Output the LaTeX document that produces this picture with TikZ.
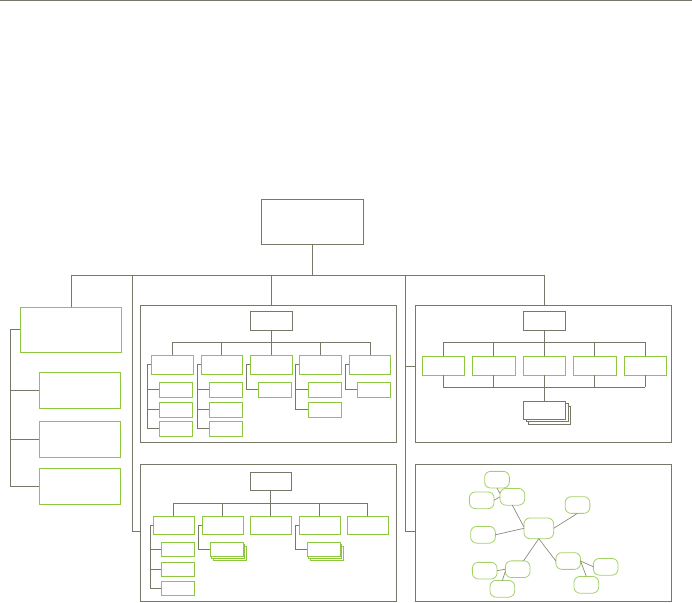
\documentclass[tikz,border=0pt]{standalone}
\usetikzlibrary{calc}
\definecolor{lg}{RGB}{120,120,104}
\definecolor{gr}{RGB}{141,198,63}
\newcommand\bx[6]{\node[#2, minimum width={#5pt-#3pt}, minimum height={#6pt-#4pt}] (#1) at ({(#3+#5)/2},{(#4+#6)/2}) {};}
\tikzset{
  gbox/.style={draw=gr, line width=1pt, fill=white, inner sep=0pt, outer sep=0pt},
  kbox/.style={draw=lg, line width=1pt, fill=white, inner sep=0pt, outer sep=0pt},
  panel/.style={draw=lg, line width=1pt, inner sep=0pt, outer sep=0pt},
  ell/.style={draw=gr!80, line width=0.8pt, fill=white, rounded corners=6pt, inner sep=0pt, outer sep=0pt, minimum width=24.7pt, minimum height=16.7pt},
  conn/.style={draw=lg, line width=1pt},
  thin/.style={draw=lg!85, line width=0.7pt}
}
\begin{document}
\begin{tikzpicture}[x=1pt,y=-1pt]
\useasboundingbox (0,0) rectangle (692,602);
\draw[lg, line width=1.5pt] (0,0.75) -- (692,0.75);

% root and main bus
\bx{root}{kbox}{261.3}{199.3}{363.3}{244.3}
\coordinate (bus) at (0,275.3);

% left group
\bx{L0}{gbox}{20.3}{307.3}{121.7}{352.3}
\bx{L1}{gbox}{39.3}{372.3}{120.3}{408.3}
\bx{L2}{gbox}{39.3}{421.3}{120.3}{457.3}
\bx{L3}{gbox}{39.3}{468.3}{120.3}{504.3}
\coordinate (lb) at (10.3,0);
\draw[conn] (L0.west) -- (lb |- L0.west) -- (lb |- L3.west) -- (L3.west);
\draw[conn] (lb |- L1.west) -- (L1.west);
\draw[conn] (lb |- L2.west) -- (L2.west);

% panels
\bx{pUM}{panel}{140.3}{305.3}{396.3}{442.3}
\bx{pUR}{panel}{415.3}{305.3}{671.7}{442.3}
\bx{pLM}{panel}{140.3}{464.3}{396.3}{601.3}
\bx{pLR}{panel}{415.3}{464.3}{671.7}{601.3}

% ---------- upper middle panel
\bx{hA}{kbox}{250.3}{311.3}{292.3}{330.3}
\bx{A1}{gbox}{151}{355.3}{193.7}{374.3}
\bx{A2}{gbox}{201.3}{355.3}{242.3}{374.3}
\bx{A3}{gbox}{250.3}{355.3}{292.3}{374.3}
\bx{A4}{gbox}{299.3}{355.3}{341.3}{374.3}
\bx{A5}{gbox}{349.3}{355.3}{390.7}{374.3}
\bx{A1a}{gbox}{159.3}{382.3}{192.3}{397.3}
\bx{A1b}{gbox}{159.3}{402.3}{192.3}{417.3}
\bx{A1c}{gbox}{159.3}{421.3}{192.3}{436.3}
\bx{A2a}{gbox}{209.3}{382.3}{242.3}{397.3}
\bx{A2b}{gbox}{209.3}{402.3}{242.3}{417.3}
\bx{A2c}{gbox}{209.3}{421.3}{242.3}{436.3}
\bx{A3a}{gbox}{258.3}{382.3}{291.3}{397.3}
\bx{A4a}{gbox}{308.3}{382.3}{341.3}{397.3}
\bx{A4b}{gbox}{308.3}{402.3}{341.3}{417.3}
\bx{A5a}{gbox}{357.3}{382.3}{390.3}{397.3}
\coordinate (busA) at (0,342.3);
\draw[conn] (hA.south) -- (hA.south |- busA);
\draw[conn] (A1.north |- busA) -- (A5.north |- busA);
\foreach \n in {A1,A2,A3,A4,A5} {\draw[conn] (\n.north |- busA) -- (\n.north);}
\draw[conn] (A1.west) -- ++(-3.7,0) coordinate (a1b) |- (A1c.west);
\draw[conn] (a1b |- A1a.west) -- (A1a.west);
\draw[conn] (a1b |- A1b.west) -- (A1b.west);
\draw[conn] (A2.west) -- ++(-4,0) coordinate (a2b) |- (A2c.west);
\draw[conn] (a2b |- A2a.west) -- (A2a.west);
\draw[conn] (a2b |- A2b.west) -- (A2b.west);
\draw[conn] (A3.west) -- ++(-4,0) |- (A3a.west);
\draw[conn] (A4.west) -- ++(-4,0) coordinate (a4b) |- (A4b.west);
\draw[conn] (a4b |- A4a.west) -- (A4a.west);
\draw[conn] (A5.west) -- ++(-4,0) |- (A5a.west);

% ---------- upper right panel
\bx{hB}{kbox}{523.3}{311.3}{565.3}{330.3}
\bx{B1}{gbox}{422.3}{356.3}{464.3}{375.3}
\bx{B2}{gbox}{472.3}{356.3}{515.3}{375.3}
\bx{B3}{gbox}{523.3}{356.3}{565.3}{375.3}
\bx{B4}{gbox}{573.3}{356.3}{616.3}{375.3}
\bx{B5}{gbox}{624.3}{356.3}{666.3}{375.3}
\bx{D3}{kbox}{528.7}{406.3}{570.7}{424.3}
\bx{D2}{kbox}{526}{403.8}{568}{421.8}
\bx{D}{kbox}{523.3}{401.3}{565.3}{419.3}
\coordinate (busB) at (0,342.3);
\coordinate (busB2) at (0,387.3);
\draw[conn] (hB.south) -- (hB.south |- busB);
\draw[conn] (B1.north |- busB) -- (B5.north |- busB);
\draw[conn] (B1.south |- busB2) -- (B5.south |- busB2);
\foreach \n in {B1,B2,B3,B4,B5} {
  \draw[conn] (\n.north |- busB) -- (\n.north);
  \draw[conn] (\n.south) -- (\n.south |- busB2);
}
\draw[conn] (B3.south |- busB2) -- (D.north);

% ---------- lower middle panel
\bx{hC}{kbox}{250.3}{472.3}{291.3}{490.3}
\bx{C1}{gbox}{153.3}{516.3}{194.3}{534.3}
\bx{C2}{gbox}{202.3}{516.3}{243.3}{534.3}
\bx{C3}{gbox}{250.3}{516.3}{291.3}{534.3}
\bx{C4}{gbox}{299.3}{516.3}{340.3}{534.3}
\bx{C5}{gbox}{347.3}{516.3}{388.3}{534.3}
\bx{C1a}{gbox}{161.3}{542.3}{194.3}{556.3}
\bx{C1b}{gbox}{161.3}{562.3}{194.3}{576.3}
\bx{C1c}{gbox}{161.3}{581.3}{194.3}{595.3}
\bx{C2s2}{gbox}{213.3}{546.3}{246.3}{560.3}
\bx{C2s1}{gbox}{211.8}{544.3}{244.8}{558.3}
\bx{C2a}{gbox}{210.3}{542.3}{243.3}{556.3}
\bx{C4s2}{gbox}{310.3}{546.3}{343.3}{560.3}
\bx{C4s1}{gbox}{308.8}{544.3}{341.8}{558.3}
\bx{C4a}{gbox}{307.3}{542.3}{340.3}{556.3}
\coordinate (busC) at (0,503.3);
\draw[conn] (hC.south) -- (hC.south |- busC);
\draw[conn] (C1.north |- busC) -- (C5.north |- busC);
\foreach \n in {C1,C2,C3,C4,C5} {\draw[conn] (\n.north |- busC) -- (\n.north);}
\draw[conn] (C1.west) -- ++(-3,0) coordinate (c1b) |- (C1c.west);
\draw[conn] (c1b |- C1a.west) -- (C1a.west);
\draw[conn] (c1b |- C1b.west) -- (C1b.west);
\draw[conn] (C2.west) -- ++(-4,0) |- (C2a.west);
\draw[conn] (C4.west) -- ++(-4,0) |- (C4a.west);

% ---------- lower right panel (mind map)
\node[ell, minimum width=29.7pt, minimum height=20.7pt] (ec) at (538.8,528.3) {};
\node[ell] (e1) at (497,479.7) {};
\node[ell] (e2) at (481.7,500.3) {};
\node[ell] (e3) at (512.3,496.8) {};
\node[ell] (e4) at (577.5,505) {};
\node[ell] (e5) at (483,534.8) {};
\node[ell] (e6) at (484.7,570.7) {};
\node[ell] (e7) at (517.7,569.2) {};
\node[ell] (e8) at (502.3,588.8) {};
\node[ell] (e9) at (568.2,561) {};
\node[ell] (e10) at (605.7,566.8) {};
\node[ell] (e11) at (586.3,584.8) {};
\draw[thin] (e1.south) -- (e3.165);
\draw[thin] (e2.east) -- (e3.west);
\draw[thin] (e3.south) -- (ec.175);
\draw[thin] (e4.south) -- (ec.east);
\draw[thin] (e5.east) -- (ec.west);
\draw[thin] (ec.south) -- (e7);
\draw[thin] (ec.south) -- (e9.west);
\draw[thin] (e6.east) -- (e7.west);
\draw[thin] (e8.north) -- (e7.190);
\draw[thin] (e9.east) -- (e10.west);
\draw[thin] (e9.east) -- (e11.north);

% ---------- main connectors
\draw[conn] (root.south) -- (root.south |- bus);
\draw[conn] (L0.north |- bus) -- (hB.north |- bus);
\draw[conn] (L0.north |- bus) -- (L0.north);
\draw[conn] (hA.north |- bus) -- (hA.north |- pUM.north);
\draw[conn] (hB.north |- bus) -- (hB.north |- pUR.north);
\coordinate (vl) at (132.7,531);
\draw[conn] (vl |- bus) -- (vl) -- (vl -| pLM.west);
\coordinate (vr) at (405.3,531);
\coordinate (vr1) at (405.3,366.3);
\draw[conn] (vr |- bus) -- (vr) -- (vr -| pLR.west);
\draw[conn] (vr1) -- (vr1 -| pUR.west);
\end{tikzpicture}
\end{document}
